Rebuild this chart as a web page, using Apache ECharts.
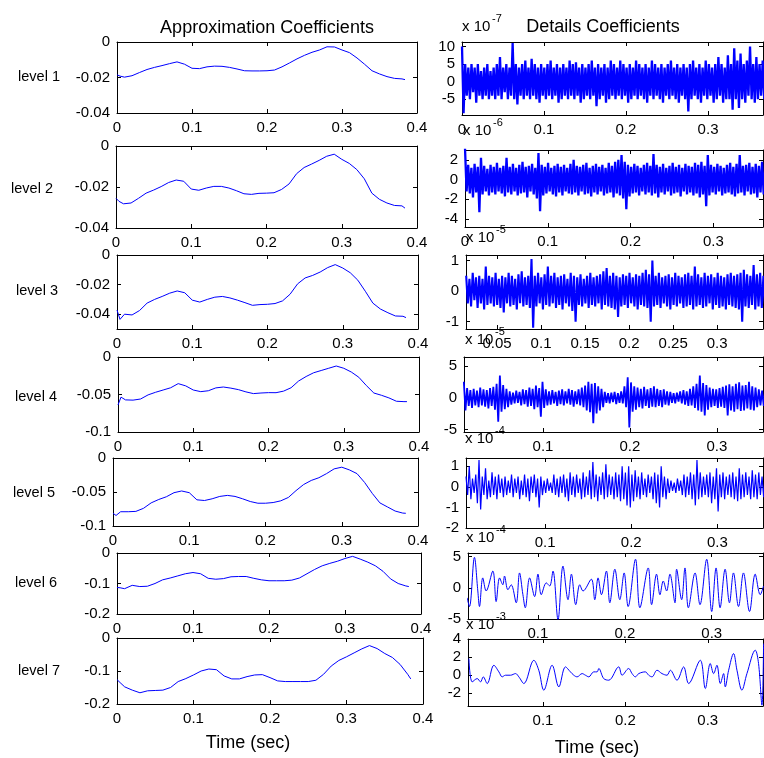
<!DOCTYPE html>
<html>
<head>
<meta charset="utf-8">
<script src="https://cdn.jsdelivr.net/npm/echarts@6/dist/echarts.min.js"></script>
<style>
html, body { margin: 0; padding: 0; background: #fff; }
#chart { width: 764px; height: 758px; }
</style>
</head>
<body>
<div id="chart"></div>
<script>
// ---- data ----
const approxTime = [0, 0.004, 0.01, 0.02, 0.03, 0.04, 0.05, 0.06, 0.07, 0.08, 0.09, 0.1, 0.11, 0.12, 0.13, 0.14,
  0.15, 0.16, 0.17, 0.18, 0.19, 0.2, 0.21, 0.22, 0.23, 0.24, 0.25, 0.26, 0.27, 0.28, 0.29, 0.3, 0.31, 0.32,
  0.33, 0.34, 0.35, 0.36, 0.37, 0.38, 0.384]

const approx1 = [-0.0185, -0.0192, -0.0198, -0.019, -0.0172, -0.0155, -0.0143, -0.0133, -0.0122, -0.0112, -0.0125,
  -0.0148, -0.015, -0.014, -0.0136, -0.0137, -0.0143, -0.0152, -0.0162, -0.0163, -0.0163, -0.0162, -0.0158, -0.014,
  -0.0118, -0.0095, -0.0075, -0.0058, -0.0045, -0.0027, -0.0028, -0.0045, -0.006, -0.009, -0.0125, -0.0162, -0.018,
  -0.0195, -0.0205, -0.0208, -0.0212]
const approx2 = [-0.0255, -0.027, -0.0282, -0.0278, -0.0255, -0.023, -0.0215, -0.0198, -0.0178, -0.0166, -0.0172,
  -0.021, -0.0216, -0.0205, -0.0197, -0.0197, -0.0205, -0.0218, -0.0233, -0.0236, -0.0231, -0.023, -0.0228, -0.0212,
  -0.0185, -0.0135, -0.0105, -0.0088, -0.007, -0.005, -0.004, -0.0065, -0.0085, -0.0115, -0.016, -0.023, -0.026,
  -0.0278, -0.029, -0.0292, -0.0303]
const approx3 = [-0.0372, -0.0435, -0.04, -0.0405, -0.0375, -0.0325, -0.03, -0.028, -0.0258, -0.0243, -0.0255,
  -0.0305, -0.0318, -0.03, -0.0285, -0.028, -0.029, -0.0305, -0.0322, -0.034, -0.0335, -0.0333, -0.0328, -0.031,
  -0.0265, -0.0195, -0.0155, -0.0138, -0.0115, -0.0085, -0.0065, -0.0088, -0.012, -0.017, -0.0245, -0.0325, -0.0365,
  -0.039, -0.0412, -0.0414, -0.0423]
const approx4 = [-0.064, -0.0535, -0.0572, -0.0575, -0.056, -0.0505, -0.047, -0.044, -0.041, -0.0355, -0.0385,
  -0.044, -0.0462, -0.045, -0.0412, -0.04, -0.0415, -0.0435, -0.0465, -0.0488, -0.048, -0.0475, -0.0476, -0.0455,
  -0.041, -0.032, -0.026, -0.021, -0.018, -0.015, -0.012, -0.015, -0.02, -0.027, -0.038, -0.048, -0.051,
  -0.0545, -0.059, -0.0595, -0.0595]
const approx5 = [-0.0813, -0.0845, -0.079, -0.079, -0.0785, -0.074, -0.066, -0.061, -0.057, -0.051, -0.0485,
  -0.051, -0.0615, -0.0625, -0.06, -0.0565, -0.055, -0.0565, -0.06, -0.064, -0.0665, -0.0665, -0.0655, -0.063,
  -0.058, -0.048, -0.039, -0.033, -0.029, -0.023, -0.016, -0.0135, -0.0175, -0.023, -0.036, -0.052, -0.066,
  -0.072, -0.078, -0.081, -0.0813]
const approx6 = [-0.113, -0.114, -0.117, -0.106, -0.11, -0.109, -0.1, -0.088, -0.082, -0.075, -0.068,
  -0.064, -0.068, -0.083, -0.086, -0.084, -0.078, -0.077, -0.077, -0.083, -0.088, -0.091, -0.091, -0.091,
  -0.089, -0.082, -0.068, -0.054, -0.042, -0.034, -0.027, -0.018, -0.011, -0.02, -0.03, -0.042, -0.06,
  -0.085, -0.1, -0.108, -0.11]
const approx7 = [-0.126, -0.135, -0.148, -0.158, -0.166, -0.16, -0.159, -0.158, -0.15, -0.132, -0.123,
  -0.112, -0.1, -0.094, -0.096, -0.115, -0.124, -0.124, -0.117, -0.112, -0.111, -0.12, -0.13, -0.132,
  -0.132, -0.132, -0.132, -0.128, -0.11, -0.085, -0.068, -0.057, -0.045, -0.033, -0.023, -0.032, -0.047,
  -0.059, -0.08, -0.11, -0.124]

// detail coefficients, in units of the exponent shown above each panel
const detail1 = [10, -9, 5, -4, 4, -5, 5, -3, 4, -6, 5, -4, 3, -5, 4, -4, 5, -5, 3, -4,
  4, -5, 5, -4, 7, -5, 4, -3, 5, -5, 4, -4, 11, -5, 5, -6.5, 4, -4, 5, -5,
  6, -4, 4, -5, 6.5, -4, 5, -5, 4, -6, 5, -4, 4, -5, 5, -4, 6, -5, 4, -4,
  5, -6, 4, -5, 5, -4, 4, -5, 6, -4, 5, -5, 5.5, -4, 4, -6, 5, -5, 4, -4,
  5, -5, 6, -4, 4, -7, 5, -5, 4, -4, 5, -6, 4, -5, 6, -4, 5, -5, 4, -4,
  6, -5, 5, -4, 4, -6, 5, -5, 4, -4, 6, -5, 5, -4, 4, -5, 5, -6, 4, -4,
  6, -5, 5, -4, 4, -5, 5, -6, 4, -4, 5, -5, 6, -4, 4, -5, 5, -6, 4, -4,
  5, -5, 4, -8.5, 5, -5, 6, -4, 4, -5, 5, -6, 4, -4, 6, -5, 5, -4, 4, -6,
  5, -5, 7, -4, 5, -6, 4, -5, 7.5, -5, 5, -8, 9.5, -5, 6, -7.5, 8, -5, 5, -6,
  6, -4, 10, -5, 5, -6, 7, -5, 5, -4, 6, -5, 4, -6, 5, -4, 6, -5, 5, -5]
const detail2 = [3.2, -1.2, 1.5, -1.4, 1.2, -1.8, 1.6, -1.3, 1.3, -3.3, 2.2, -1.5, 1.4, -1.2, 1.1, -1.6, 1.5, -1.3, 1.3, -1.5,
  1.7, -1.2, 1.2, -1.4, 1.4, -1.7, 2.2, -1.3, 1.3, -1.5, 1.6, -1.2, 1.2, -1.6, 1.5, -1.4, 1.8, -1.3, 1.3, -1.8,
  1.4, -1.2, 1.6, -1.5, 1.2, -1.9, 2.7, -3.2, 1.5, -1.6, 1.3, -1.4, 1.7, -1.2, 1.2, -1.5, 1.4, -1.7, 1.6, -1.3,
  1.3, -1.6, 1.5, -1.2, 1.2, -1.4, 1.6, -1.5, 2.0, -1.3, 1.4, -1.6, 1.3, -1.2, 1.5, -1.5, 1.7, -1.4, 1.2, -1.7,
  1.4, -1.3, 1.6, -1.5, 1.3, -1.2, 1.5, -1.6, 1.2, -1.4, 1.7, -1.3, 1.4, -1.8, 1.8, -1.4, 2.0, -1.6, 2.5, -1.9,
  1.8, -3.0, 1.5, -1.7, 1.3, -1.4, 1.6, -1.3, 1.4, -1.6, 1.2, -1.2, 1.5, -1.5, 1.7, -1.3, 1.4, -1.6, 2.6, -1.4,
  1.5, -1.8, 1.3, -1.3, 1.6, -1.5, 1.2, -1.2, 1.4, -1.6, 1.7, -1.4, 1.3, -1.3, 1.5, -1.7, 1.2, -1.2, 1.6, -1.5,
  1.4, -1.3, 1.3, -1.6, 1.7, -1.4, 1.5, -1.8, 1.8, -1.5, 1.4, -2.7, 2.5, -1.6, 1.5, -1.3, 1.3, -1.5, 1.6, -1.2,
  1.4, -1.6, 1.2, -1.4, 1.5, -1.3, 1.7, -1.5, 1.3, -1.7, 1.6, -1.4, 2.5, -1.3, 1.4, -1.6, 1.5, -1.2, 1.7, -1.5,
  1.3, -1.4, 1.6, -1.8, 1.4, -1.3, 1.8, -1.5, 1.2, -1.2, 1.5, -1.6, 1.3, -1.4, 1.6, -1.3, 1.4, -1.5, 1.5, -1.4]
const detail3 = [0.5, -0.4, 0.4, -0.5, 0.6, -0.3, 0.45, -0.55, 0.5, -0.4, 0.4, -0.6, 0.8, -0.45, 0.5, -0.4, 0.45, -0.5, 0.6, -0.45,
  0.4, -0.55, 0.5, -0.7, 0.45, -0.4, 0.6, -0.5, 0.5, -0.45, 0.4, -0.6, 0.55, -0.4, 0.65, -0.5, 0.45, -0.45, 0.5, -0.55,
  1.05, -1.2, 0.5, -0.5, 0.6, -0.4, 0.45, -0.6, 0.55, -0.45, 0.8, -0.5, 0.5, -0.4, 0.6, -0.55, 0.45, -0.45, 0.5, -0.6,
  0.55, -0.4, 0.4, -0.5, 0.6, -0.65, 0.5, -1.0, 0.45, -0.45, 0.55, -0.5, 0.4, -0.4, 0.5, -0.55, 0.6, -0.45, 0.45, -0.5,
  0.5, -0.4, 0.55, -0.6, 0.65, -0.45, 0.75, -0.5, 0.5, -0.55, 0.6, -0.6, 0.5, -0.85, 0.45, -0.5, 0.55, -0.45, 0.5, -0.55,
  0.6, -0.4, 0.45, -0.5, 0.55, -0.6, 0.5, -0.45, 0.6, -0.5, 0.7, -0.55, 0.55, -1.0, 1.0, -0.5, 0.5, -0.45, 0.6, -0.55,
  0.45, -0.4, 0.5, -0.5, 0.55, -0.6, 0.45, -0.45, 0.6, -0.5, 0.5, -0.4, 0.45, -0.55, 0.55, -0.5, 0.6, -0.45, 0.5, -0.6,
  0.8, -0.5, 0.55, -0.45, 0.45, -0.55, 0.6, -0.5, 0.5, -0.4, 0.55, -0.6, 0.45, -0.45, 0.6, -0.55, 0.5, -0.5, 0.45, -0.6,
  0.55, -0.45, 0.6, -0.5, 0.5, -0.55, 0.55, -0.6, 0.6, -1.0, 0.7, -0.5, 0.55, -0.55, 0.5, -0.45, 0.85, -0.6, 0.55, -0.5,
  0.6, -0.55, 0.5, -0.45, 0.55, -0.5, 0.6, -0.6, 0.45, -0.5, 0.5, -0.45, 0.55, -0.55, 0.6, -0.5, 0.5, -0.45, 0.55, -0.5]
const detail4 = [2.5, -2.0, 1.5, -1.3, 1.2, -1.6, 1.4, -1.2, 1.1, -1.5, 1.6, -1.2, 1.3, -1.4, 1.2, -1.7, 1.5, -1.3, 1.7, -1.9,
  2.2, -3.8, 3.5, -2.2, 2.0, -1.8, 1.4, -1.5, 1.0, -1.1, 0.8, -0.9, 1.1, -0.8, 0.9, -1.2, 1.3, -1.0, 1.2, -1.4,
  1.6, -1.3, 1.4, -1.8, 1.9, -1.5, 1.5, -3.0, 2.5, -1.6, 1.3, -1.2, 1.0, -1.1, 1.2, -0.9, 0.9, -1.3, 1.1, -1.0,
  1.3, -1.2, 1.0, -0.9, 1.4, -1.1, 1.2, -1.4, 1.0, -1.0, 1.3, -1.2, 1.6, -1.5, 1.9, -2.0, 2.5, -2.3, 2.2, -4.0,
  2.3, -2.5, 1.8, -2.0, 1.4, -1.5, 0.9, -0.8, 0.7, -0.9, 0.8, -0.7, 0.9, -1.0, 0.7, -0.8, 1.0, -0.9, 1.8, -1.5,
  3.2, -4.7, 2.4, -2.2, 1.8, -1.9, 1.6, -1.5, 1.4, -1.7, 1.7, -1.3, 1.3, -1.6, 1.5, -1.4, 1.8, -1.5, 1.4, -1.3,
  1.2, -1.5, 1.3, -1.1, 1.0, -1.2, 0.9, -0.8, 0.7, -0.9, 0.8, -0.6, 1.0, -0.9, 1.2, -1.1, 1.0, -1.3, 1.4, -1.2,
  1.8, -1.6, 2.2, -2.0, 3.5, -2.2, 2.3, -2.8, 2.0, -1.9, 1.6, -1.5, 1.4, -1.3, 1.3, -1.6, 1.5, -1.4, 1.7, -1.6,
  1.9, -2.8, 2.1, -2.0, 1.8, -2.2, 2.2, -1.8, 2.4, -2.1, 1.9, -2.0, 2.0, -1.7, 2.5, -1.9, 1.8, -2.0, 1.6, -1.5,
  1.3, -1.2, 1.1, -1.3, 1.4, -1.1, 1.2, -1.4, 1.0, -1.0, 1.3, -1.2, 1.5, -1.4, 1.2, -1.1, 1.4, -1.3, 1.1, -1.2]
const detail5 = [0.5, -0.4, 1.0, -0.6, 0.4, -0.3, 0.6, -0.8, 1.3, -1.1, 0.5, -0.4, 0.9, -0.6, 0.3, -0.5, 0.7, -0.4, 0.5, -0.6,
  0.6, -0.3, 0.4, -0.5, 0.5, -0.4, 0.3, -0.3, 0.6, -0.5, 0.4, -0.3, 0.5, -0.6, 0.3, -0.4, 0.6, -0.5, 0.4, -0.7,
  0.5, -0.3, 0.6, -0.5, 0.4, -1.0, 0.5, -0.4, 0.3, -0.3, 0.4, -0.2, 0.2, -0.3, 0.6, -0.4, 0.4, -0.5, 0.5, -0.3,
  0.6, -0.5, 0.4, -0.7, 0.7, -0.4, 0.5, -0.5, 0.6, -0.3, 0.4, -0.6, 0.7, -0.5, 0.5, -0.4, 0.8, -0.6, 1.2, -0.5,
  0.6, -0.7, 0.5, -0.4, 0.7, -0.6, 1.1, -0.5, 0.6, -0.4, 0.5, -0.6, 0.7, -0.5, 0.6, -0.7, 1.0, -0.6, 0.7, -0.9,
  1.0, -1.0, 0.6, -0.7, 0.8, -0.5, 0.5, -0.6, 0.7, -0.4, 0.4, -0.5, 0.6, -0.3, 0.5, -0.6, 0.7, -0.8, 0.6, -1.0,
  1.0, -0.5, 0.5, -0.6, 0.4, -0.3, 0.3, -0.2, 0.2, -0.3, 0.4, -0.2, 0.3, -0.4, 0.6, -0.5, 0.5, -0.4, 0.7, -0.6,
  0.6, -0.9, 1.3, -0.6, 0.7, -0.5, 0.5, -0.4, 0.6, -0.5, 0.7, -0.8, 0.5, -0.6, 0.9, -1.2, 0.6, -0.5, 0.7, -0.6,
  0.5, -0.4, 0.6, -0.5, 0.7, -0.6, 0.5, -0.7, 0.9, -0.6, 0.6, -0.5, 0.7, -0.4, 0.5, -0.6, 0.8, -0.5, 0.6, -0.6,
  0.7, -0.4, 0.5, -0.5, 0.6, -0.3, 0.7, -0.6, 0.5, -0.4, 0.8, -0.5, 0.6, -0.7, 0.7, -0.5, 0.5, -0.4, 0.6, -0.5]
// time span (sec) covered by each evenly sampled detail row above
const detailSpan = [[0, 0.384], [0, 0.384], [0.015, 0.384], [0.009, 0.384], [0.008, 0.384]]

const detail6Time = [0.0185, 0.0212, 0.0269, 0.0308, 0.0327, 0.0365, 0.0404, 0.0481, 0.0519, 0.0558, 0.0596, 0.0615,
  0.0654, 0.0692, 0.075, 0.0788, 0.0827, 0.0854, 0.0904, 0.0962, 0.1, 0.1038, 0.1096, 0.1135, 0.1173, 0.1231,
  0.1288, 0.1346, 0.1385, 0.1435, 0.1481, 0.1519, 0.1615, 0.1654, 0.1692, 0.1731, 0.1788, 0.1827, 0.1885, 0.1942,
  0.1992, 0.2038, 0.2123, 0.2173, 0.2269, 0.2308, 0.2365, 0.2404, 0.2442, 0.2481, 0.2519, 0.2577, 0.2596, 0.2654,
  0.2692, 0.2731, 0.2808, 0.2865, 0.2942, 0.3, 0.305, 0.3096, 0.3154, 0.3204, 0.325, 0.3308, 0.3365, 0.3435,
  0.35, 0.3558, 0.3596]
const detail6 = [-1.6, -3.0, 4.9, -0.5, -3.0, 1.6, -0.5, 2.7, -2.2, 1.6, 0.5, 1.9,
  -0.3, 0.5, -2.4, 2.4, -1.1, -3.2, 1.6, -1.4, 2.2, -1.1, 0.8, 0.3, 2.7, -5.1,
  3.5, -1.9, 2.2, -2.7, 0.5, -0.5, 1.4, -1.9, 1.6, -1.1, 2.7, -2.4, 3.0, -1.9,
  2.4, -3.0, 4.6, -3.2, 3.2, -2.7, 2.2, -1.1, 1.1, -0.5, 2.2, -2.4, 3.0, -1.9,
  3.2, -3.2, 2.4, -2.7, 4.6, -3.8, 3.2, -3.2, 3.0, -2.4, 2.4, -3.0, 2.4, -3.8,
  2.2, -1.1, 0.3]

const detail7Time = [0.0101, 0.0141, 0.0202, 0.0242, 0.0275, 0.0323, 0.0404, 0.0465, 0.0505, 0.0545, 0.0606,
  0.0667, 0.0707, 0.0768, 0.0889, 0.0949, 0.101, 0.1111, 0.1192, 0.1273, 0.1333, 0.1374, 0.1414, 0.1475,
  0.1515, 0.1556, 0.1616, 0.1657, 0.1677, 0.1737, 0.1798, 0.1919, 0.196, 0.204, 0.2081, 0.2121, 0.2162,
  0.2242, 0.2283, 0.2323, 0.2384, 0.2444, 0.2505, 0.2545, 0.2626, 0.2707, 0.2768, 0.2909, 0.297, 0.303,
  0.3071, 0.3111, 0.3152, 0.3192, 0.3212, 0.3253, 0.3313, 0.3354, 0.3414, 0.3475, 0.3576, 0.3616, 0.3657, 0.3677]
const detail7 = [1.84, -0.74, -0.37, -0.74, -0.18, -0.92, 1.1, 0.37, -0.18, 0, 0,
  0.18, -0.18, -0.92, 1.65, 0.55, -1.65, 1.1, -1.29, 0.92, 0.37, 0, -0.18, 0.18,
  0, -0.18, 0.37, 0.37, 0.74, -0.37, -0.55, 0.92, 0, 0.74, 0.18, -0.18, 0.18,
  0.37, 0, -0.18, 0.55, 0.18, 0, 0.55, -0.55, 0.92, -0.92, 1.65, -1.47, 1.29,
  0.18, 1.1, -0.92, 0.18, -1.29, 0.55, 2.39, 0.55, -1.65, 0.18, 2.76, 1.29, -3.31, 3.49]

// axes: ranges and tick values
const approxYRange = [[-0.04, 0], [-0.04, 0], [-0.05, 0], [-0.1, 0], [-0.1, 0], [-0.2, 0], [-0.2, 0]]
const approxYTicks = [[0, -0.02, -0.04], [0, -0.02, -0.04], [0, -0.02, -0.04], [0, -0.05, -0.1],
  [0, -0.05, -0.1], [0, -0.1, -0.2], [0, -0.1, -0.2]]
const approxXTicks = [0, 0.1, 0.2, 0.3, 0.4]

const detailXRange = [[0, 0.367], [0, 0.36], [0.0148, 0.352], [0.0092, 0.353], [0.008, 0.353], [0.0195, 0.359], [0.009, 0.367]]
const detailXTicks = [[0, 0.1, 0.2, 0.3], [0, 0.1, 0.2, 0.3], [0.05, 0.1, 0.15, 0.2, 0.25, 0.3],
  [0.1, 0.2, 0.3], [0.1, 0.2, 0.3], [0.1, 0.2, 0.3], [0.1, 0.2, 0.3]]
const detailYRange = [[-9.5, 11.3], [-4.8, 3], [-1.24, 1.18], [-5.4, 6.4], [-2, 1.4], [-5, 5.6], [-3.4, 4]]
const detailYTicks = [[10, 5, 0, -5], [2, 0, -2, -4], [1, 0, -1], [5, 0, -5], [1, 0, -1, -2], [5, 0, -5], [4, 2, 0, -2]]
const detailExponent = ['-7', '-6', '-5', '-5', '-4', '-4', '-3']

const levelNames = ['level 1', 'level 2', 'level 3', 'level 4', 'level 5', 'level 6', 'level 7']

// ---- layout (pixels) ----
const leftBoxes = [[117, 42, 417, 113], [116, 146, 417, 228], [117, 255, 418, 329], [118, 357, 419, 432],
  [113, 458, 418, 526], [117, 553, 421, 614], [117, 638, 423, 704]]
const rightBoxes = [[462, 42, 763, 115], [465, 150, 763, 227], [466, 255, 763, 329], [464, 357, 763, 432],
  [466, 458, 763, 528], [468, 553, 763, 619], [468, 639, 763, 706]]
const levelLabelPos = [[39, 77], [32, 189], [37, 291], [36, 397], [34, 493], [36, 583], [39, 671]]
const exponentPos = [[462, 27], [463, 131], [466, 238], [465, 340], [465, 439], [466, 538], [466, 625]]
// dense noise rows get a heavier stroke so the band reads as solid, smooth oscillation rows get curves
const detailWidth = [2.3, 2.3, 2.1, 1.8, 1.2, 1, 1]
const detailSmooth = [false, false, false, false, false, 0.35, 0.35]

const FONT = '"Liberation Sans", Arial, sans-serif'
const BLUE = '#0000ff'

const approxSeries = [approx1, approx2, approx3, approx4, approx5, approx6, approx7]
const evenDetails = [detail1, detail2, detail3, detail4, detail5]

function detailPoints(row) {
    if (row === 5) return detail6Time.map((t, i) => [t, detail6[i]])
    if (row === 6) return detail7Time.map((t, i) => [t, detail7[i]])
    const vals = evenDetails[row]
    const [t0, t1] = detailSpan[row]
    return vals.map((v, i) => [t0 + (t1 - t0) * i / (vals.length - 1), v])
}

const grid = [], xAxis = [], yAxis = [], series = [], graphic = []

function axisPair(list, gi, pos, other, min, max, ticks) {
    const common = {
        type: 'value', gridIndex: gi, min: min, max: max,
        axisLine: { show: true, onZero: false, lineStyle: { color: '#000', width: 1 } },
        axisTick: { show: true, inside: true, length: 4, customValues: ticks, lineStyle: { color: '#000' } },
        splitLine: { show: false }
    }
    list.push(Object.assign({}, common, {
        position: pos,
        axisLabel: { show: true, customValues: ticks, color: '#000', fontSize: 15, fontFamily: FONT, margin: 7 }
    }))
    list.push(Object.assign({}, common, { position: other, axisLabel: { show: false } }))
}

function addPanel(box, xr, xt, yr, yt, data, lw, smooth) {
    const gi = grid.length
    grid.push({ left: box[0], top: box[1], width: box[2] - box[0], height: box[3] - box[1], containLabel: false })
    axisPair(xAxis, gi, 'bottom', 'top', xr[0], xr[1], xt)
    axisPair(yAxis, gi, 'left', 'right', yr[0], yr[1], yt)
    series.push({
        type: 'line', xAxisIndex: 2 * gi, yAxisIndex: 2 * gi, data: data,
        showSymbol: false, symbol: 'none', silent: true, clip: true, smooth: smooth,
        lineStyle: { color: BLUE, width: lw }
    })
}

for (let r = 0; r < 7; r++) {
    addPanel(leftBoxes[r], [0, 0.4], approxXTicks, approxYRange[r], approxYTicks[r],
        approxTime.map((t, i) => [t, approxSeries[r][i]]), 1, false)
    addPanel(rightBoxes[r], detailXRange[r], detailXTicks[r], detailYRange[r], detailYTicks[r],
        detailPoints(r), detailWidth[r], detailSmooth[r])

    graphic.push({ type: 'text', x: levelLabelPos[r][0], y: levelLabelPos[r][1],
        style: { text: levelNames[r], fill: '#000', font: '14.5px ' + FONT, textAlign: 'center', textVerticalAlign: 'middle' } })
    graphic.push({ type: 'text', x: exponentPos[r][0], y: exponentPos[r][1],
        style: { text: 'x 10', fill: '#000', font: '15px ' + FONT, textAlign: 'left', textVerticalAlign: 'middle' } })
    graphic.push({ type: 'text', x: exponentPos[r][0] + 30, y: exponentPos[r][1] - 8,
        style: { text: detailExponent[r], fill: '#000', font: '11px ' + FONT, textAlign: 'left', textVerticalAlign: 'middle' } })
}

graphic.push({ type: 'text', x: 267, y: 28, style: { text: 'Approximation Coefficients', fill: '#000', font: '18px ' + FONT, textAlign: 'center', textVerticalAlign: 'middle' } })
graphic.push({ type: 'text', x: 603, y: 27, style: { text: 'Details Coefficients', fill: '#000', font: '18px ' + FONT, textAlign: 'center', textVerticalAlign: 'middle' } })
graphic.push({ type: 'text', x: 248, y: 743, style: { text: 'Time (sec)', fill: '#000', font: '18px ' + FONT, textAlign: 'center', textVerticalAlign: 'middle' } })
graphic.push({ type: 'text', x: 597, y: 748, style: { text: 'Time (sec)', fill: '#000', font: '18px ' + FONT, textAlign: 'center', textVerticalAlign: 'middle' } })

const myChart = echarts.init(document.getElementById('chart'), null, { renderer: 'canvas' })
myChart.setOption({
    animation: false,
    backgroundColor: '#fff',
    grid: grid,
    xAxis: xAxis,
    yAxis: yAxis,
    series: series,
    graphic: graphic
})
</script>
</body>
</html>
